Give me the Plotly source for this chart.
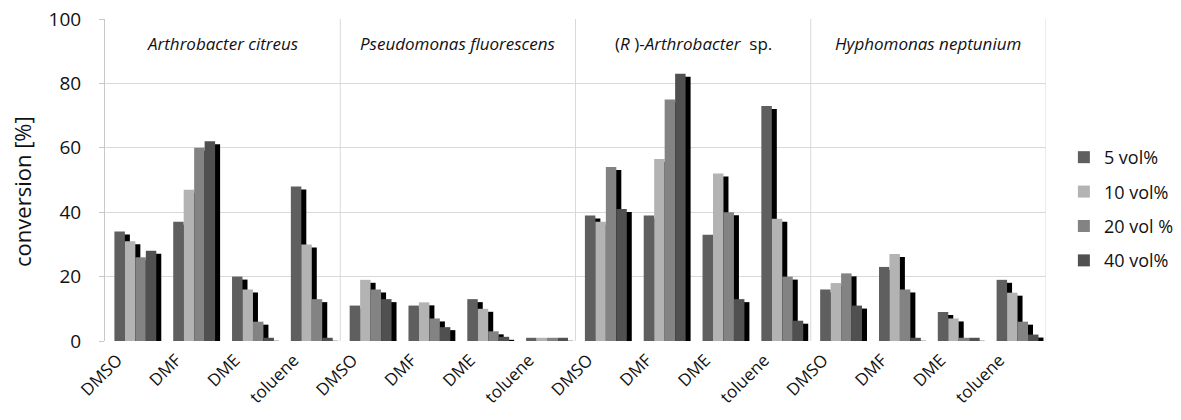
import plotly.graph_objects as go

solvents = ["DMSO", "DMF", "DME", "toluene"] * 4
organisms = ["<i>Arthrobacter citreus</i>", "<i>Pseudomonas fluorescens</i>",
             "(<i>R</i> )-<i>Arthrobacter</i>  sp.", "<i>Hyphomonas neptunium</i>"]
series_names = ["5 vol%", "10 vol%", "20 vol %", "40 vol%"]
y_title = "conversion [%]"
vol5 = [34, 37, 20, 48, 11, 11, 13, 1, 39, 39, 33, 73, 16, 23, 9, 19]
vol10 = [31, 47, 16, 30, 19, 12, 10, 1, 37, 56.5, 52, 38, 18, 27, 7, 15]
vol20 = [26, 60, 6, 13, 16, 7, 3, 1, 54, 75, 40, 20, 21, 16, 1, 6]
vol40 = [28, 62, 1, 1, 13, 4.3, 1.3, 1, 41, 83, 13, 6.3, 11, 1, 1, 2]
series_values = [vol5, vol10, vol20, vol40]
colors = ["#5f5f5f", "#b3b3b3", "#838383", "#505050"]

x = list(range(len(solvents)))
bar_w = 0.178
start = -0.34
dx = 0.085
dy = 0.93

FONT = "'Open Sans', sans-serif"

fig = go.Figure()
for k, (name, vals, col) in enumerate(zip(series_names, series_values, colors)):
    off = start + k * bar_w
    fig.add_trace(go.Bar(
        x=x, y=vals, base=[-dy] * len(vals),
        offset=off + dx, width=bar_w, marker=dict(color="#000000", line=dict(width=0)),
        showlegend=False, hoverinfo="skip", legendgroup=name))
    fig.add_trace(go.Bar(
        x=x, y=vals, offset=off, width=bar_w, name=name, legendgroup=name,
        marker=dict(color=col, line=dict(width=0))))

shapes = []
for b in [3.5, 7.5, 11.5, 15.5]:
    shapes.append(dict(type="line", xref="x", yref="paper", x0=b, x1=b, y0=0, y1=1,
                       line=dict(color="#d9d9d9", width=1), layer="below"))

annotations = []
for i, org in enumerate(organisms):
    annotations.append(dict(x=4 * i + 1.5, y=92.5, xref="x", yref="y", text=org,
                            showarrow=False, font=dict(size=17, color="#111111")))
annotations.append(dict(x=-0.0882, y=0.463, xref="paper", yref="paper", text=y_title,
                        textangle=-90, showarrow=False, xanchor="center", yanchor="middle",
                        font=dict(size=22, color="#111111")))

fig.update_layout(
    width=1181, height=420,
    barmode="overlay",
    paper_bgcolor="white", plot_bgcolor="white",
    font=dict(family=FONT, color="#111111"),
    margin=dict(l=97, r=143, t=11, b=87, autoexpand=False),
    xaxis=dict(range=[-0.5, 15.5], tickvals=x, ticktext=solvents, tickangle=-45,
               showgrid=False, zeroline=False, showline=False, ticks="",
               automargin=False, tickfont=dict(size=17), ticklabeloverflow="allow",
               ticklabelstandoff=5, ticklabelshift=-17),
    yaxis=dict(range=[0, 100], dtick=20, showgrid=True, gridcolor="#d9d9d9",
               zeroline=False, showline=True, linecolor="#c8c8c8",
               ticks="outside", ticklen=5, tickcolor="#c8c8c8",
               automargin=False, tickfont=dict(size=19), ticklabelstandoff=14,
               ticklabeloverflow="allow"),
    legend=dict(x=1.019, y=0.41, xanchor="left", yanchor="middle",
                font=dict(size=18), bgcolor="rgba(0,0,0,0)", tracegroupgap=8),
    shapes=shapes, annotations=annotations,
)

fig.write_html("out.html")
